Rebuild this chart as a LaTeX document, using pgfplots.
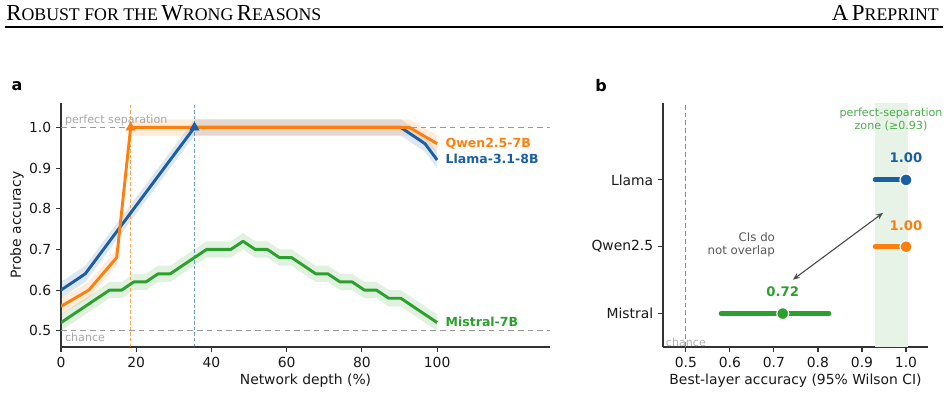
\documentclass[border=0pt]{standalone}
\usepackage{fontspec}
\setmainfont{DejaVu Sans}
\newfontfamily\serif{Liberation Serif}
\usepackage{pgfplots}
\usepackage{pgfplotstable}
\pgfplotsset{compat=1.18}
\usepgfplotslibrary{fillbetween}
\usetikzlibrary{arrows.meta}
\definecolor{cO}{HTML}{FF7F0E}
\definecolor{cG}{HTML}{2CA02C}
\definecolor{cB}{HTML}{1A5FA6}
\definecolor{spine}{HTML}{333333}
\definecolor{zone}{HTML}{E6F3E6}

\pgfplotstableread{
x y
0 0.60
6.45 0.64
35.48 1.00
90.32 1.00
96.77 0.96
100 0.92
}\llama
\pgfplotstableread{
x y
0 0.56
7.41 0.60
14.81 0.68
18.52 1.00
92.59 1.00
100 0.96
}\qwen
\pgfplotstableread{
x y
0 0.52
12.90 0.60
16.13 0.60
19.35 0.62
22.58 0.62
25.81 0.64
29.03 0.64
38.71 0.70
45.16 0.70
48.39 0.72
51.61 0.70
54.84 0.70
58.06 0.68
61.29 0.68
67.74 0.64
70.97 0.64
74.19 0.62
77.42 0.62
80.65 0.60
83.87 0.60
87.10 0.58
90.32 0.58
100 0.52
}\mistral

\newcommand\BIG[1]{{\fontsize{16.5}{18}\selectfont #1}}
\newcommand\SM[1]{{\fontsize{12.8}{14}\selectfont #1}}

\begin{document}
\begin{tikzpicture}
\pgfplotsset{
  every axis/.append style={
    scale only axis,
    axis x line*=bottom, axis y line*=left,
    axis line style={spine, line width=0.9pt, -},
    tick align=outside, major tick length=3.5pt,
    every tick/.style={spine, line width=0.8pt},
    tick label style={font=\fontsize{10}{12}\selectfont, text=black!90},
    label style={font=\fontsize{10}{12}\selectfont, text=black!90},
    /pgf/number format/assume math mode=true,
  }
}
% ---------------- panel a
\begin{axis}[
  at={(43.92pt,-249.84pt)}, anchor=south west,
  width=352.08pt, height=175.68pt,
  xmin=0, xmax=130, ymin=0.46, ymax=1.06,
  xtick={0,20,40,60,80,100},
  ytick={0.5,0.6,0.7,0.8,0.9,1.0},
  yticklabel style={/pgf/number format/.cd, fixed, fixed zerofill, precision=1},
  xlabel={Network depth (\%)},
  ylabel={Probe accuracy},
  xlabel style={yshift=2pt},
  ylabel style={yshift=-3pt},
]
% reference lines
\addplot[black!40, line width=0.9pt, dash pattern=on 4pt off 3pt, forget plot] coordinates {(0,1) (130,1)};
\addplot[black!40, line width=0.9pt, dash pattern=on 4pt off 3pt, forget plot] coordinates {(0,0.5) (130,0.5)};
\addplot[cO, opacity=0.7, line width=0.8pt, dash pattern=on 2.5pt off 1.5pt, forget plot] coordinates {(18.52,0.46) (18.52,1.06)};
\addplot[cB, opacity=0.6, line width=0.8pt, dash pattern=on 2.5pt off 1.5pt, forget plot] coordinates {(35.48,0.46) (35.48,1.06)};
% bands
\addplot[name path=lu, draw=none, forget plot] table[x=x, y expr=\thisrow{y}+0.02]{\llama};
\addplot[name path=ll, draw=none, forget plot] table[x=x, y expr=\thisrow{y}-0.02]{\llama};
\addplot[cB, fill opacity=0.15, draw=none, forget plot] fill between[of=lu and ll];
\addplot[name path=qu, draw=none, forget plot] table[x=x, y expr=\thisrow{y}+0.02]{\qwen};
\addplot[name path=ql, draw=none, forget plot] table[x=x, y expr=\thisrow{y}-0.02]{\qwen};
\addplot[cO, fill opacity=0.15, draw=none, forget plot] fill between[of=qu and ql];
\addplot[name path=mu, draw=none, forget plot] table[x=x, y expr=\thisrow{y}+0.02]{\mistral};
\addplot[name path=ml, draw=none, forget plot] table[x=x, y expr=\thisrow{y}-0.02]{\mistral};
\addplot[cG, fill opacity=0.15, draw=none, forget plot] fill between[of=mu and ml];
% lines
\addplot[cB, line width=2.1pt, line join=round] table[x=x,y=y]{\llama};
\addplot[cO, line width=2.1pt, line join=round] table[x=x,y=y]{\qwen};
\addplot[cG, line width=2.1pt, line join=round] table[x=x,y=y]{\mistral};
\addplot[only marks, mark=triangle*, mark size=3.8pt, cO] coordinates {(18.52,1.0)};
\addplot[only marks, mark=triangle*, mark size=3.8pt, cB] coordinates {(35.48,1.0)};
% text
\node[anchor=south west, inner sep=0pt, text=black!35, font=\fontsize{8}{9}\selectfont] at (axis cs:1,1.004) {perfect separation};
\node[anchor=north west, inner sep=0pt, text=black!35, font=\fontsize{8}{9}\selectfont] at (axis cs:1,0.494) {chance};
\node[anchor=west, inner sep=0pt, text=cO, font=\bfseries\fontsize{9}{10}\selectfont] at (axis cs:102.2,0.961) {Qwen2.5-7B};
\node[anchor=west, inner sep=0pt, text=cB, font=\bfseries\fontsize{9}{10}\selectfont] at (axis cs:102.2,0.922) {Llama-3.1-8B};
\node[anchor=west, inner sep=0pt, text=cG, font=\bfseries\fontsize{9}{10}\selectfont] at (axis cs:102.2,0.522) {Mistral-7B};
\end{axis}
% ---------------- panel b
\begin{axis}[
  at={(477.36pt,-249.84pt)}, anchor=south west,
  width=190.8pt, height=175.68pt,
  xmin=0.448, xmax=1.05, ymin=-0.5, ymax=3.15,
  xtick={0.5,0.6,0.7,0.8,0.9,1.0},
  xticklabel style={/pgf/number format/.cd, fixed, fixed zerofill, precision=1},
  ytick={0,1,2}, yticklabels={Mistral,Qwen2.5,Llama},
  xlabel={Best-layer accuracy (95\% Wilson CI)},
  xlabel style={yshift=2pt},
  clip=false,
]
\addplot[fill=zone, draw=none, forget plot] coordinates {(0.93,-0.5) (1.005,-0.5) (1.005,3.15) (0.93,3.15)} -- cycle;
\addplot[black!45, line width=0.8pt, dash pattern=on 3.5pt off 2.2pt, forget plot] coordinates {(0.5,-0.5) (0.5,3.15)};
\node[text=black!30, inner sep=0pt, font=\fontsize{8}{9}\selectfont] at (axis cs:0.5,-0.43) {chance};
% CIs
\addplot[cG, line width=3.5pt, line cap=round] coordinates {(0.58,0) (0.825,0)};
\addplot[cO, line width=3.5pt, line cap=round] coordinates {(0.93,1) (1.0,1)};
\addplot[cB, line width=3.5pt, line cap=round] coordinates {(0.93,2) (1.0,2)};
\addplot[only marks, mark=*, mark size=4.3pt, mark options={fill=cG, draw=white, line width=0.9pt}] coordinates {(0.72,0)};
\addplot[only marks, mark=*, mark size=4.3pt, mark options={fill=cO, draw=white, line width=0.9pt}] coordinates {(1.0,1)};
\addplot[only marks, mark=*, mark size=4.3pt, mark options={fill=cB, draw=white, line width=0.9pt}] coordinates {(1.0,2)};
\node[text=cB, font=\bfseries\fontsize{9.5}{11}\selectfont] at (axis cs:1.0,2.33) {1.00};
\node[text=cO, font=\bfseries\fontsize{9.5}{11}\selectfont] at (axis cs:1.0,1.32) {1.00};
\node[text=cG, font=\bfseries\fontsize{9.5}{11}\selectfont] at (axis cs:0.72,0.33) {0.72};
\node[text=black!65, align=right, anchor=east, inner sep=0pt, font=\fontsize{8.5}{10}\selectfont] at (axis cs:0.703,1.03) {CIs do\\not overlap};
\node[text=cG!85, align=center, inner sep=0pt, font=\fontsize{8}{9.5}\selectfont] at (axis cs:0.966,2.9) {perfect-separation\\zone (≥0.93)};
\draw[black!70, line width=0.8pt, {Stealth[length=5pt,width=4pt]}-{Stealth[length=5pt,width=4pt]}] (axis cs:0.743,0.507) -- (axis cs:0.948,1.507);
\end{axis}
% ---------------- header and panel letters
\begin{scope}[x=0.72pt, y=-0.72pt]
\node[anchor=base west, inner sep=0pt, font=\serif] at (6,20) {\BIG{R}\SM{OBUST FOR THE} \BIG{W}\SM{RONG} \BIG{R}\SM{EASONS}};
\node[anchor=base east, inner sep=0pt, font=\serif] at (939,20) {\BIG{A} \BIG{P}\SM{REPRINT}};
\draw[black, line width=1.2pt] (5,26.8) -- (943,26.8);
\node[inner sep=0pt, font=\bfseries\fontsize{11.5}{13}\selectfont] at (17,86) {a};
\node[inner sep=0pt, font=\bfseries\fontsize{11.5}{13}\selectfont] at (601,86) {b};
\end{scope}
\pgfresetboundingbox
\useasboundingbox (0,0) rectangle (682.56pt,-287.28pt);
\end{tikzpicture}
\end{document}
